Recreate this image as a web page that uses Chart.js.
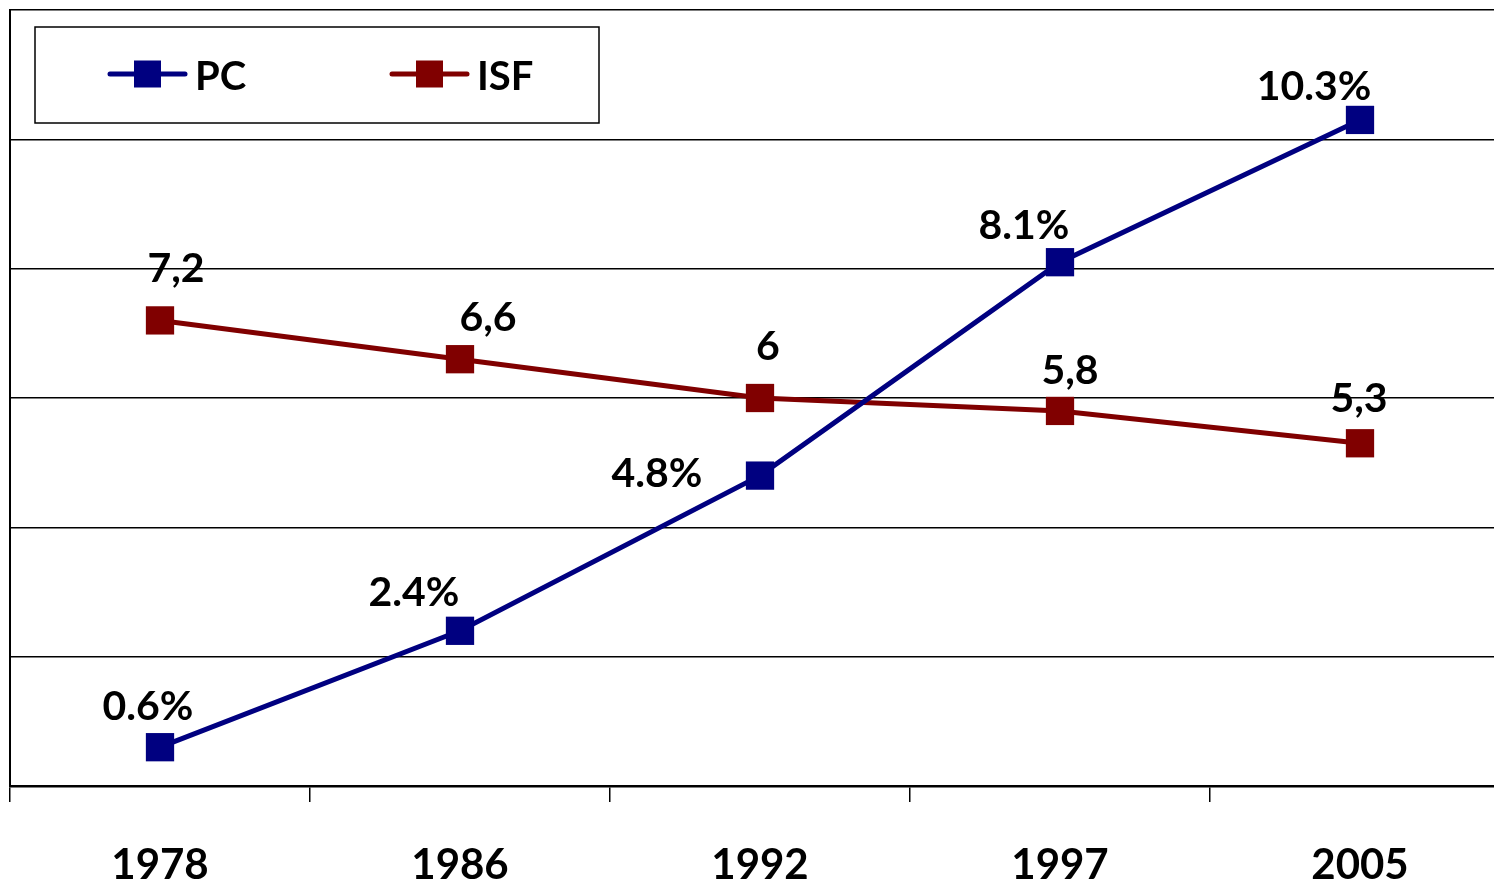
<!DOCTYPE html>
<html>
<head>
<meta charset="utf-8">
<script src="https://cdn.jsdelivr.net/npm/chart.js@4.4.0/dist/chart.umd.min.js"></script>
<style>
  html, body { margin: 0; padding: 0; background: #fff; overflow: hidden; }
</style>
</head>
<body>
<canvas id="myChart" width="1530" height="883"></canvas>
<script>
// data
let years = ["1978", "1986", "1992", "1997", "2005"];
let pcValues = [0.6, 2.4, 4.8, 8.1, 10.3];
let isfValues = [7.2, 6.6, 6, 5.8, 5.3];
let yTicks = [0, 2, 4, 6, 8, 10, 12];

let fontName = "Lato, 'Open Sans', sans-serif";

// label offsets (dx, dy) from the point, per dataset
let labelOffsets = [
    [[-12, -40], [-46, -38], [-103, -2], [-36, -36], [-46, -33]],
    [[16, -52], [28, -41], [8, -51], [10, -40], [-1, -44]]
];

let labelPlugin = {
    id: 'pointLabels',
    afterDatasetsDraw(chart) {
        let ctx = chart.ctx;
        ctx.save();
        ctx.font = "bold 41px " + fontName;
        ctx.fillStyle = "#000";
        ctx.textAlign = "center";
        ctx.textBaseline = "middle";
        chart.data.datasets.forEach(function (ds, i) {
            let meta = chart.getDatasetMeta(i);
            meta.data.forEach(function (pt, j) {
                let v = ds.data[j];
                let txt = i == 0 ? v.toFixed(1) + "%" : String(v).replace(".", ",");
                ctx.fillText(txt, pt.x + labelOffsets[i][j][0], pt.y + labelOffsets[i][j][1]);
            });
        });
        ctx.restore();
    }
};

let legendPlugin = {
    id: 'boxLegend',
    afterDraw(chart) {
        let ctx = chart.ctx;
        ctx.save();
        ctx.fillStyle = "#fff";
        ctx.fillRect(35, 27, 564, 96);
        ctx.strokeStyle = "#000";
        ctx.lineWidth = 1.5;
        ctx.strokeRect(35, 27, 564, 96);
        let xs = [110, 392];
        chart.data.datasets.forEach(function (ds, i) {
            let x = xs[i];
            let y = 74;
            ctx.strokeStyle = ds.borderColor;
            ctx.lineWidth = 5;
            ctx.lineCap = "round";
            ctx.beginPath();
            ctx.moveTo(x, y);
            ctx.lineTo(x + 75, y);
            ctx.stroke();
            ctx.fillStyle = ds.backgroundColor;
            ctx.fillRect(x + 24, y - 13.5, 27, 27);
            ctx.fillStyle = "#000";
            ctx.font = "bold 40px " + fontName;
            ctx.textAlign = "left";
            ctx.textBaseline = "middle";
            ctx.fillText(ds.label, x + 85, y + 3);
        });
        ctx.restore();
    }
};

new Chart("myChart", {
    type: "line",
    data: {
        labels: years,
        datasets: [
            {
                label: "PC",
                data: pcValues,
                borderColor: "#000080",
                backgroundColor: "#000080",
                borderWidth: 5,
                pointStyle: "rect",
                pointRadius: 20,
                pointBorderWidth: 0,
                tension: 0
            },
            {
                label: "ISF",
                data: isfValues,
                borderColor: "#800000",
                backgroundColor: "#800000",
                borderWidth: 5,
                pointStyle: "rect",
                pointRadius: 20,
                pointBorderWidth: 0,
                tension: 0
            }
        ]
    },
    options: {
        responsive: false,
        animation: false,
        layout: { autoPadding: false, padding: { left: 10, top: 10, right: 20, bottom: 0 } },
        plugins: {
            legend: { display: false },
            tooltip: { enabled: false }
        },
        scales: {
            x: {
                offset: true,
                grid: {
                    offset: true,
                    drawOnChartArea: false,
                    color: "#000",
                    lineWidth: 1.5,
                    tickLength: 16
                },
                border: { color: "#000", width: 2.5 },
                ticks: {
                    color: "#000",
                    padding: 38,
                    font: { family: fontName, size: 42, weight: "bold" }
                },
                afterFit(scale) { scale.height = 97; }
            },
            y: {
                min: 0,
                max: 12,
                afterBuildTicks(scale) {
                    scale.ticks = yTicks.map(function (v) { return { value: v }; });
                },
                grid: { color: "#000", lineWidth: 1.5, drawTicks: false },
                border: { color: "#000", width: 2 },
                ticks: { display: false },
                afterFit(scale) { scale.width = 0; }
            }
        }
    },
    plugins: [labelPlugin, legendPlugin]
});
</script>
</body>
</html>
